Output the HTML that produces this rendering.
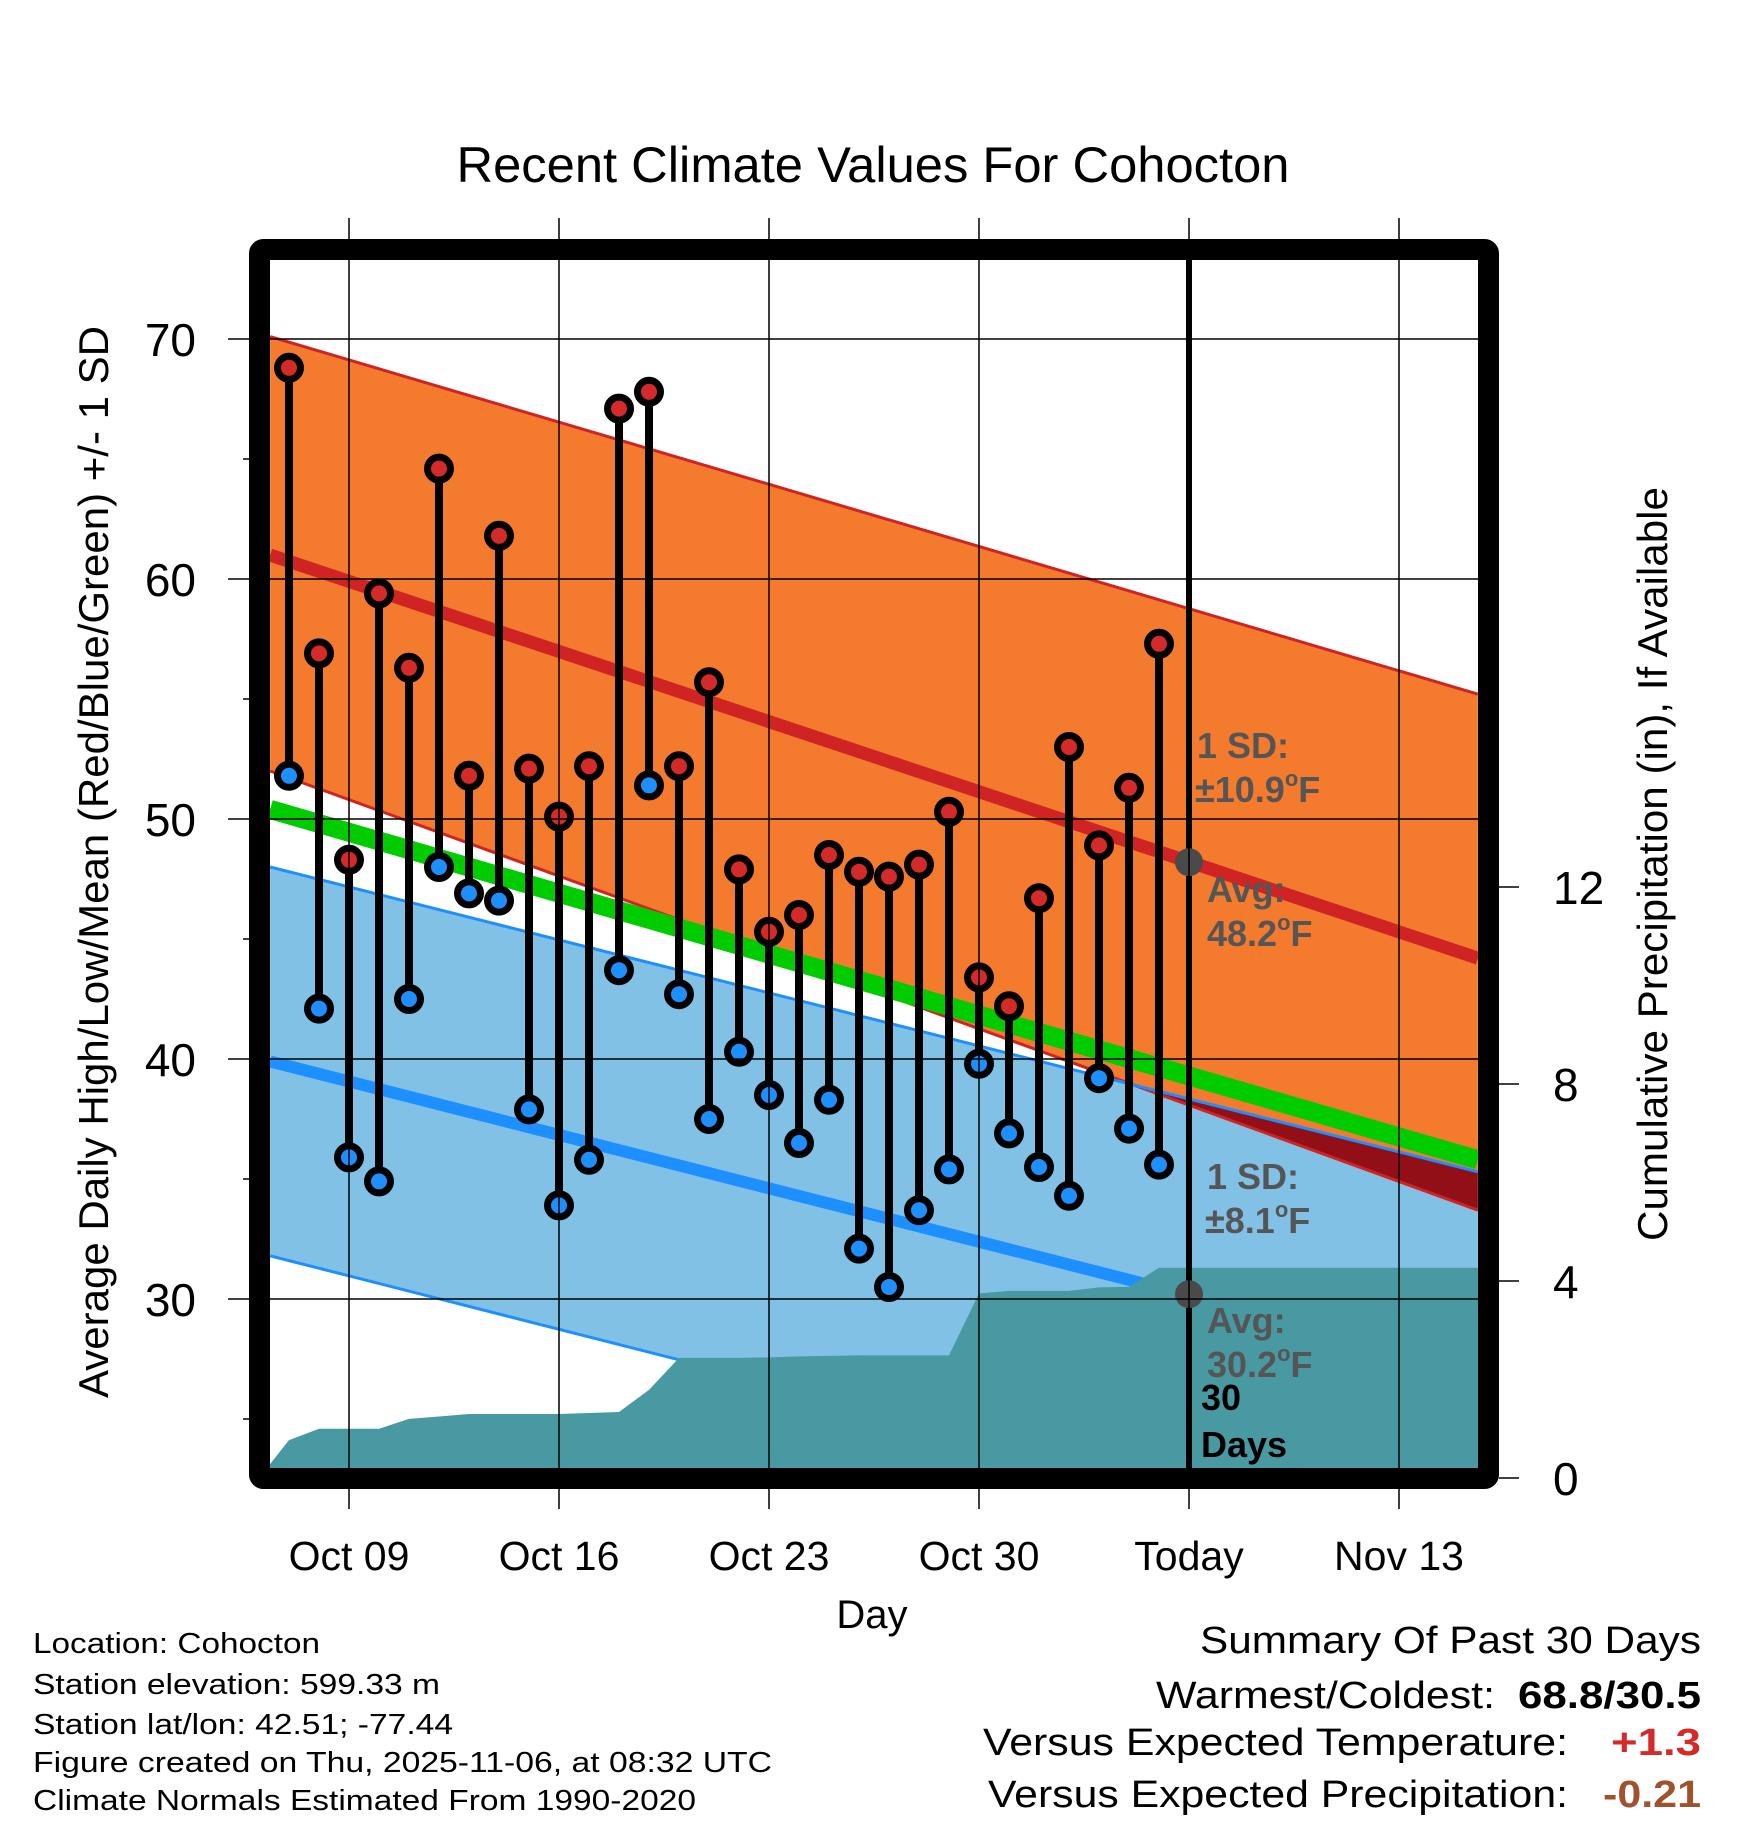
<!DOCTYPE html>
<html><head><meta charset="utf-8"><style>
html,body{margin:0;padding:0;background:#fff;}
svg{display:block;font-family:"Liberation Sans",Arial,sans-serif;}
</style></head><body>
<svg id="chart" width="1748" height="1828" viewBox="0 0 1748 1828" xmlns="http://www.w3.org/2000/svg">
<defs>
<clipPath id="plotclip"><rect x="270" y="260" width="1208" height="1208"/></clipPath>
</defs>
<text x="873" y="182" font-size="50" text-anchor="middle" textLength="833" lengthAdjust="spacingAndGlyphs">Recent Climate Values For Cohocton</text>
<g id="plot" clip-path="url(#plotclip)"></g>
<g id="over"></g>
<text transform="translate(108,862) rotate(-90)" font-size="42" text-anchor="middle" textLength="1072" lengthAdjust="spacingAndGlyphs">Average Daily High/Low/Mean (Red/Blue/Green) +/- 1 SD</text>
<text transform="translate(1667,864) rotate(-90)" font-size="42" text-anchor="middle" textLength="754" lengthAdjust="spacingAndGlyphs">Cumulative Precipitation (in), If Available</text>
<text x="872" y="1628" font-size="40" text-anchor="middle">Day</text>
<g font-size="29">
<text x="33" y="1653" textLength="287" lengthAdjust="spacingAndGlyphs">Location: Cohocton</text>
<text x="33" y="1694" textLength="407" lengthAdjust="spacingAndGlyphs">Station elevation: 599.33 m</text>
<text x="33" y="1734" textLength="420" lengthAdjust="spacingAndGlyphs">Station lat/lon: 42.51; -77.44</text>
<text x="33" y="1772" textLength="739" lengthAdjust="spacingAndGlyphs">Figure created on Thu, 2025-11-06, at 08:32 UTC</text>
<text x="33" y="1810" textLength="663" lengthAdjust="spacingAndGlyphs">Climate Normals Estimated From 1990-2020</text>
</g>
<g font-size="38">
<text x="1200" y="1653" textLength="501" lengthAdjust="spacingAndGlyphs">Summary Of Past 30 Days</text>
<text x="1156" y="1708" textLength="339" lengthAdjust="spacingAndGlyphs">Warmest/Coldest:</text>
<text x="1518" y="1708" textLength="183" lengthAdjust="spacingAndGlyphs" font-weight="bold">68.8/30.5</text>
<text x="983" y="1755" textLength="585" lengthAdjust="spacingAndGlyphs">Versus Expected Temperature:</text>
<text x="1611" y="1755" textLength="90" lengthAdjust="spacingAndGlyphs" font-weight="bold" fill="#d42a2a">+1.3</text>
<text x="988" y="1807" textLength="580" lengthAdjust="spacingAndGlyphs">Versus Expected Precipitation:</text>
<text x="1603" y="1807" textLength="98" lengthAdjust="spacingAndGlyphs" font-weight="bold" fill="#a0522d">-0.21</text>
</g>
</svg>
<script>
// Daily data Oct 07 .. Nov 05
const highs = [68.8,56.9,48.3,59.4,56.3,64.6,51.8,61.8,52.1,50.1,52.2,67.1,67.8,52.2,55.7,47.9,45.3,46.0,48.5,47.8,47.6,48.1,50.3,43.4,42.2,46.7,53.0,48.9,51.3,57.3];
const lows  = [51.8,42.1,35.9,34.9,42.5,48.0,46.9,46.6,37.9,33.9,35.8,43.7,51.4,42.7,37.5,40.3,38.5,36.5,38.3,32.1,30.5,33.7,35.4,39.8,36.9,35.5,34.3,39.2,37.1,35.6];
const firstDay = -2; // Oct 07 relative to Oct 09
// Cumulative precipitation Oct 06 .. Nov 05
const precip = [0,0.77,1.0,1.0,1.0,1.2,1.25,1.3,1.3,1.3,1.3,1.32,1.34,1.79,2.44,2.44,2.44,2.45,2.47,2.48,2.49,2.49,2.49,2.49,3.75,3.8,3.8,3.8,3.87,3.88,4.27];
const precipFirstDay = -3;
// Normals at left and right plot edges
const normDays = [-2.63, 37.63];
const normHigh = [61.0, 44.2];
const normLow = [39.9, 27.1];
const highUpper = [70.1, 55.2];
const highLower = [52.0, 33.7];
const lowUpper = [48.0, 35.3];
const lowLower = [31.8, 19.0];
const normMean = [50.4, 35.8];
const todayDay = 28;
const todayHigh = [48.2];
const todayLow = [30.2];
const xTickDays = [0,7,14,21,28,35];
const xTickLabels = ["Oct 09","Oct 16","Oct 23","Oct 30","Today","Nov 13"];
const yTicks = [30,40,50,60,70];
const yMinor = [25,35,45,55,65];
const pTicks = [0,4,8,12];

const NS = "http://www.w3.org/2000/svg";
const X = d => 349 + 30 * d;
const Y = v => 339 + (70 - v) * 24;
const YP = p => 1478 - p * 49.25;
const plot = document.getElementById('plot');
const over = document.getElementById('over');
function mk(tag, attrs, parent) {
  const e = document.createElementNS(NS, tag);
  for (const k in attrs) e.setAttribute(k, attrs[k]);
  parent.appendChild(e);
  return e;
}
const L = normDays[0], R = normDays[1];
function band(up, lo) {
  return `${X(L)},${Y(up[0])} ${X(R)},${Y(up[1])} ${X(R)},${Y(lo[1])} ${X(L)},${Y(lo[0])}`;
}
let e;
e = mk('polygon', {points: band(lowUpper, lowLower), fill: '#82c1e6'}, plot);


e = mk('polygon', {points: band(highUpper, highLower), fill: '#f47a2e'}, plot);


const defs = document.querySelector('defs');
const cp = mk('clipPath', {id: 'lowclip'}, defs);
mk('polygon', {points: band(lowUpper, lowLower)}, cp);
e = mk('polygon', {points: band(highUpper, highLower), fill: '#930f17', 'clip-path': 'url(#lowclip)'}, plot);


function edge(arr, col, name) {
  const l = mk('line', {x1: X(L), y1: Y(arr[0]), x2: X(R), y2: Y(arr[1]), stroke: col, 'stroke-width': 3}, plot);
  
  
}
edge(highUpper, '#d02424', 'high-upper-sd-line');
edge(highLower, '#d02424', 'high-lower-sd-line');
edge(lowUpper, '#1e8fff', 'low-upper-sd-line');
edge(lowLower, '#1e8fff', 'low-lower-sd-line');
yTicks.forEach(v => {
  const g = mk('line', {x1: 228, y1: Y(v), x2: 1478, y2: Y(v), stroke: '#000', 'stroke-width': 1.5}, over);
  
  
  const t = mk('text', {x: 196, y: Y(v) + 17, 'font-size': 46, 'text-anchor': 'end'}, over);
  t.textContent = v;
  
  
});
yMinor.forEach(v => {
  const g = mk('line', {x1: 243, y1: Y(v), x2: 252, y2: Y(v), stroke: '#000', 'stroke-width': 1.5}, over);
  
  
});
xTickDays.forEach((d, i) => {
  const g = mk('line', {x1: X(d), y1: 218, x2: X(d), y2: 1509, stroke: '#000', 'stroke-width': 1.5}, over);
  
  
  const t = mk('text', {x: X(d), y: 1570, 'font-size': 41, 'text-anchor': 'middle'}, over);
  t.textContent = xTickLabels[i];
  
  
});
pTicks.forEach(p => {
  const g = mk('line', {x1: 1499, y1: YP(p), x2: 1519, y2: YP(p), stroke: '#000', 'stroke-width': 1.5}, over);
  
  
  const t = mk('text', {x: 1553, y: YP(p) + 17, 'font-size': 46}, over);
  t.textContent = p;
  
  
});
e = mk('line', {x1: X(L), y1: Y(normHigh[0]), x2: X(R), y2: Y(normHigh[1]), stroke: '#d02424', 'stroke-width': 13}, plot);


e = mk('line', {x1: X(L), y1: Y(normLow[0]), x2: X(R), y2: Y(normLow[1]), stroke: '#1e8fff', 'stroke-width': 12}, plot);


e = mk('line', {x1: X(L), y1: Y(normMean[0]), x2: X(R), y2: Y(normMean[1]), stroke: '#00cc00', 'stroke-width': 19}, plot);


let pts = precip.map((p, i) => `${X(precipFirstDay + i)},${YP(p)}`);
pts.push(`1490,${YP(precip[precip.length-1])}`, `1490,1480`, `${X(precipFirstDay)},1480`);
e = mk('polygon', {points: pts.join(' '), fill: '#4899a2'}, plot);


e = mk('line', {x1: X(todayDay), y1: 260, x2: X(todayDay), y2: 1468, stroke: '#000', 'stroke-width': 6}, plot);


highs.forEach((h, i) => {
  const x = X(firstDay + i);
  const s = mk('line', {x1: x, y1: Y(h), x2: x, y2: Y(lows[i]), stroke: '#000', 'stroke-width': 8}, plot);
  
  
  const c1 = mk('circle', {cx: x, cy: Y(h), r: 11.5, fill: '#d42a2a', stroke: '#000', 'stroke-width': 7}, plot);
  
  
  const c2 = mk('circle', {cx: x, cy: Y(lows[i]), r: 11.5, fill: '#1e8fff', stroke: '#000', 'stroke-width': 7}, plot);
  
  
});
e = mk('circle', {cx: X(todayDay), cy: Y(todayHigh[0]), r: 14, fill: '#4a4a4a'}, plot);


e = mk('circle', {cx: X(todayDay), cy: Y(todayLow[0]), r: 14, fill: '#4a4a4a'}, plot);


function ann(x, y, txt, deg, col, name) {
  const t = mk('text', {x: x, y: y, 'font-size': 36, 'font-weight': 'bold', fill: col}, over);
  t.textContent = txt;
  if (deg) {
    const s = mk('tspan', {'font-size': 22, dy: -16}, t);
    s.textContent = 'o';
    const f = mk('tspan', {dy: 16}, t);
    f.textContent = 'F';
  }
  
  
}
ann(1197, 758, '1 SD:', false, '#555', 'high-sd-label');
ann(1195, 802, '±10.9', true, '#555', 'high-sd-value');
ann(1207, 902, 'Avg:', false, '#555', 'high-avg-label');
ann(1207, 946, '48.2', true, '#555', 'high-avg-value');
ann(1207, 1189, '1 SD:', false, '#555', 'low-sd-label');
ann(1205, 1233, '±8.1', true, '#555', 'low-sd-value');
ann(1207, 1333, 'Avg:', false, '#555', 'low-avg-label');
ann(1207, 1377, '30.2', true, '#555', 'low-avg-value');
ann(1201, 1410, '30', false, '#000', 'days-count-label');
ann(1201, 1457, 'Days', false, '#000', 'days-label');
e = mk('rect', {x: 259.5, y: 249.5, width: 1229, height: 1229, rx: 4, fill: 'none', stroke: '#000', 'stroke-width': 21}, over);


</script>
</body></html>
